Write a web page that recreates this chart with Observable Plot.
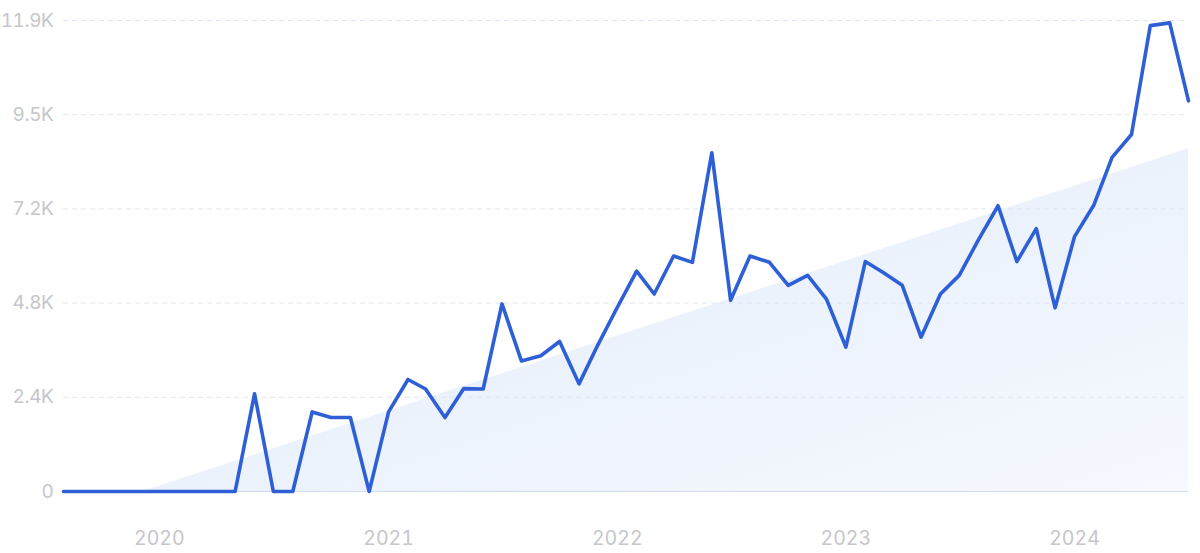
<!DOCTYPE html>
<html>
<head>
<meta charset="utf-8">
<script src="https://cdn.jsdelivr.net/npm/d3@7"></script>
<script src="https://cdn.jsdelivr.net/npm/@observablehq/plot@0.6"></script>
<style>
  html, body { margin: 0; padding: 0; background: #ffffff; }
  #chart { width: 1200px; height: 553px; }
  #chart svg g[aria-label="y-axis tick label"] text { letter-spacing: -0.4px; }
</style>
</head>
<body>
<div id="chart"></div>
<script>
// Monthly values, Aug 2019 – Jul 2024
const startMonth = "2019-08";
const values = [
  0, 0, 0, 0, 0, 0, 0, 0, 0, 0,
  2470, 0, 0, 2010, 1870, 1870, 0,
  2010, 2830, 2590, 1870, 2600, 2590, 4740, 3300, 3430, 3790, 2720,
  3700, 4650, 5570, 4990, 5950, 5790, 8560, 4830, 5950, 5790, 5210, 5460, 4860,
  3650, 5810, 5540, 5210, 3900, 4990, 5460, 6370, 7220, 5810, 6640, 4640,
  6440, 7240, 8440, 9020, 11770, 11840, 9870
];
// Trend band endpoints
const trendDates = ["2019-12-06", "2024-07-01"];
const trendValues = [0, 8660];
// Axis ticks
const yTicks = [0, 2380, 4760, 7140, 9520, 11900];
const yTickLabels = ["0", "2.4K", "4.8K", "7.2K", "9.5K", "11.9K"];
const xTickYears = [2020, 2021, 2022, 2023, 2024];

const t0 = new Date(startMonth + "-01T00:00:00");
const data = values.map((v, i) => ({
  date: new Date(t0.getFullYear(), t0.getMonth() + i, 1),
  value: v
}));
const trend = trendDates.map((d, i) => ({ date: new Date(d + "T00:00:00"), value: trendValues[i] }));
const xTicks = xTickYears.map(y => new Date(y, 0, 1));
const labelOf = new Map(yTicks.map((t, i) => [t, yTickLabels[i]]));

const chart = Plot.plot({
  width: 1200,
  height: 553,
  marginLeft: 63,
  marginRight: 12,
  marginTop: 20,
  marginBottom: 62,
  style: { fontFamily: "Inter, sans-serif", background: "#ffffff" },
  x: { type: "time", domain: [data[0].date, data[data.length - 1].date] },
  y: { domain: [0, 11900] },
  marks: [
    Plot.areaY(trend, { x: "date", y: "value", fill: "url(#trendGrad)" }),
    Plot.ruleY(yTicks.slice(1), { stroke: "#dfe6f3", strokeWidth: 1, strokeDasharray: "5,4" }),
    Plot.ruleY([0], { stroke: "#cfdcf1", strokeWidth: 1.2 }),
    Plot.lineY(data, { x: "date", y: "value", stroke: "#2e5fd6", strokeWidth: 3.6, strokeLinejoin: "round", strokeLinecap: "round" }),
    Plot.axisY({ ticks: yTicks, tickFormat: d => labelOf.get(d), tickSize: 0, tickPadding: 10, fontSize: 19, color: "#c6c6cc", label: null }),
    Plot.axisX({ ticks: xTicks, tickFormat: d => String(d.getFullYear()), tickSize: 0, tickPadding: 40, fontSize: 19.5, color: "#c6c6cc", label: null })
  ]
});

// gradient for trend band
const ns = "http://www.w3.org/2000/svg";
const defs = document.createElementNS(ns, "defs");
const grad = document.createElementNS(ns, "linearGradient");
grad.setAttribute("id", "trendGrad");
grad.setAttribute("x1", "0"); grad.setAttribute("y1", "0");
grad.setAttribute("x2", "1"); grad.setAttribute("y2", "1");
[["0%", "#e0ebfb"], ["100%", "#f6f9fe"]].forEach(([o, c]) => {
  const s = document.createElementNS(ns, "stop");
  s.setAttribute("offset", o); s.setAttribute("stop-color", c);
  grad.appendChild(s);
});
defs.appendChild(grad);
chart.insertBefore(defs, chart.firstChild);

document.getElementById("chart").appendChild(chart);
</script>
</body>
</html>
